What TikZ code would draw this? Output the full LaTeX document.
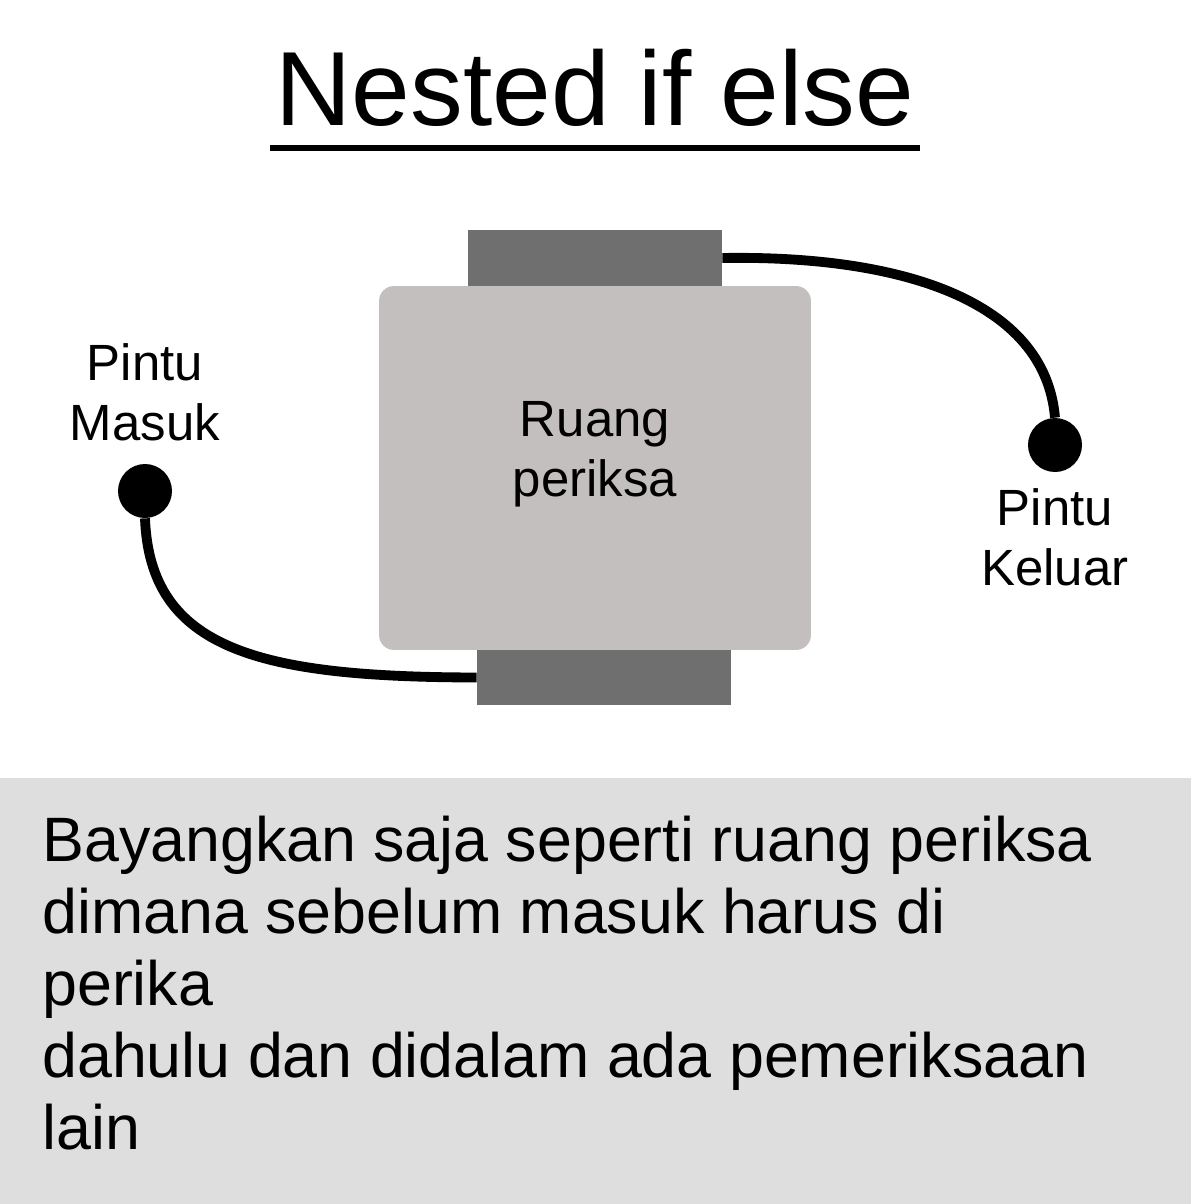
\documentclass[tikz,border=0pt]{standalone}
\usepackage{fontspec}
\setmainfont{Liberation Sans}
\usepackage{tikz}
\usetikzlibrary{positioning}
\definecolor{door}{HTML}{6F6F6F}
\definecolor{room}{HTML}{C4BFBF}
\definecolor{panel}{HTML}{DEDEDE}

\begin{document}
\begin{tikzpicture}[x=0.02cm, y=-0.02cm,
  doorbar/.style={fill=door, draw=none, inner sep=0pt,
    minimum width=5.08cm, minimum height=1.12cm},
  wire/.style={draw=black, line width=5.6pt},
  dot/.style={circle, fill=black, inner sep=0pt, minimum size=1.08cm},
  lbl/.style={align=center, font=\fontsize{29}{34}\selectfont},
]
% 1 px of the sketch = 0.02cm, y runs downwards
\useasboundingbox (0,0) rectangle (1191,1204);

% heading
\node[anchor=base, font=\fontsize{60}{70}\selectfont] (title) at (595,125)
  {Nested if else};
\draw[line width=2.9pt] (270,148) -- (920,148);

% the room with its two doors
\node[fill=room, rounded corners=0.3cm, inner sep=0pt,
  minimum width=8.64cm, minimum height=7.28cm] (ruang) at (595,468) {};
\node[doorbar] (pintuatas) at (595,258) {};
\node[doorbar, minimum height=1.1cm] (pintubawah) at (604,677.5) {};
\node[lbl] (ruanglbl) at (595,454) {Ruang\\periksa};

% entrance and exit
\node[dot] (masuk) at (145,491) {};
\node[dot] (keluar) at (1055,445) {};
\node[lbl] (masuklbl) at (145,392) {Pintu\\Masuk};
\node[lbl] (keluarlbl) at (1055,537) {Pintu\\Keluar};

\draw[wire] (masuk.south) .. controls (150,650) and (260,677) .. (pintubawah.west);
\draw[wire] (pintuatas.east) .. controls (900,255) and (1045,300) .. (keluar.north);

% explanation
\fill[panel] (0,778) rectangle (1191,1204);
\node[anchor=north west, inner sep=0pt, align=left,
  font=\fontsize{35.7}{41}\selectfont] (ket) at (42,816)
  {Bayangkan saja seperti ruang periksa\\
   dimana sebelum masuk harus di\\
   perika\\
   dahulu dan didalam ada pemeriksaan\\
   lain};
\end{tikzpicture}
\end{document}
